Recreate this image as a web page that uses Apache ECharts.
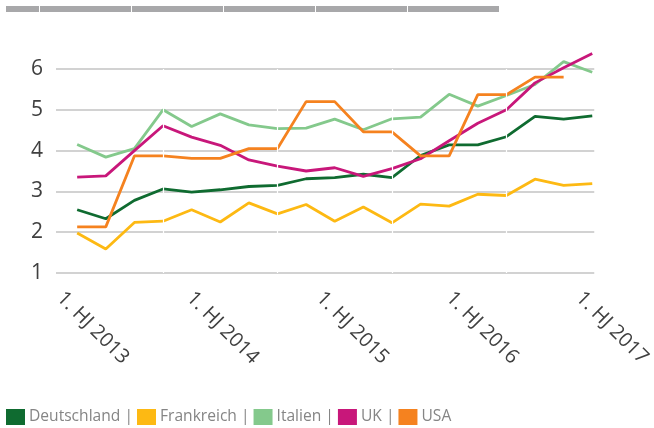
<!DOCTYPE html>
<html>
<head>
<meta charset="utf-8">
<script src="https://cdn.jsdelivr.net/npm/echarts@6/dist/echarts.min.js"></script>
<style>
  html, body { margin: 0; padding: 0; background: #fff; }
  #main { width: 654px; height: 428px; }
</style>
</head>
<body>
<div id="main"></div>
<script>
// Werte je Land (19 Zeitpunkte, USA einer weniger)
var deutschland = [2.55, 2.33, 2.78, 3.06, 2.98, 3.04, 3.12, 3.15, 3.31, 3.34, 3.42, 3.34, 3.88, 4.14, 4.14, 4.34, 4.84, 4.77, 4.85];
var frankreich  = [1.98, 1.59, 2.24, 2.27, 2.55, 2.25, 2.72, 2.45, 2.68, 2.27, 2.62, 2.23, 2.69, 2.64, 2.93, 2.90, 3.30, 3.15, 3.19];
var italien     = [4.15, 3.84, 4.05, 5.00, 4.59, 4.90, 4.63, 4.54, 4.55, 4.77, 4.51, 4.78, 4.82, 5.38, 5.09, 5.35, 5.62, 6.18, 5.92];
var uk          = [3.35, 3.38, 4.00, 4.61, 4.33, 4.13, 3.77, 3.62, 3.50, 3.58, 3.37, 3.56, 3.80, 4.24, 4.67, 5.00, 5.66, 6.03, 6.38];
var usa         = [2.13, 2.13, 3.87, 3.87, 3.81, 3.81, 4.05, 4.05, 5.20, 5.20, 4.46, 4.46, 3.87, 3.87, 5.37, 5.37, 5.80, 5.80];

var names  = ['Deutschland', 'Frankreich', 'Italien', 'UK', 'USA'];
var colors = ['#0f6b30', '#fdb913', '#84c98c', '#c8177a', '#f5821f'];
var xLabels = ['1. HJ 2013', '1. HJ 2014', '1. HJ 2015', '1. HJ 2016', '1. HJ 2017'];

// Beschriftungen gleichmäßig verteilt (in Indexeinheiten)
var labelStart = -0.6, labelStep = 4.535;
var labelPos = xLabels.map(function (l, i) { return +(labelStart + i * labelStep).toFixed(3); });

function pairs(arr) {
    return arr.map(function (v, i) { return [i, v]; });
}

var seriesData = [deutschland, frankreich, italien, uk, usa];

var series = seriesData.map(function (d, k) {
    return {
        name: names[k],
        type: 'line',
        data: pairs(d),
        showSymbol: false,
        symbol: 'none',
        clip: false,
        lineStyle: { width: 2.8, color: colors[k] },
        itemStyle: { color: colors[k] },
        z: 3
    };
});

// kleine Lücken in den Gitterlinien
series.push({
    type: 'line',
    data: [],
    z: 1,
    silent: true,
    markLine: {
        silent: true,
        symbol: 'none',
        label: { show: false },
        lineStyle: { color: '#ffffff', width: 1.2, type: 'solid' },
        data: [{ xAxis: 3 }, { xAxis: 7 }, { xAxis: 11 }, { xAxis: 15 }]
    }
});

// grauer Balken oben
var barGaps = [39, 131, 223, 315, 407];
var graphics = [{ type: 'rect', shape: { x: 6, y: 6, width: 493, height: 6 }, style: { fill: '#a8a8aa' } }];
barGaps.forEach(function (g) {
    graphics.push({ type: 'rect', shape: { x: g, y: 6, width: 1, height: 6 }, style: { fill: '#ffffff' } });
});

var myChart = echarts.init(document.getElementById('main'));
myChart.setOption({
    animation: false,
    graphic: graphics,
    grid: { left: 56, right: 55, top: 69, bottom: 155, containLabel: false },
    legend: {
        left: 6,
        top: 409,
        padding: 0,
        icon: 'rect',
        itemWidth: 19,
        itemHeight: 16,
        itemGap: 4,
        data: names,
        formatter: function (n) { return n === 'USA' ? n : n + ' |'; },
        textStyle: { fontFamily: 'Open Sans', fontSize: 15.6, color: '#858585', padding: [0, 0, 0, -1] }
    },
    xAxis: {
        type: 'value',
        min: -0.74,
        max: 18.07,
        axisLine: { show: false },
        axisTick: { show: false },
        splitLine: { show: false },
        axisLabel: {
            customValues: labelPos,
            rotate: -45,
            margin: 22,
            fontFamily: 'Open Sans',
            fontSize: 20,
            color: '#404040',
            formatter: function (v) {
                var i = labelPos.indexOf(+(+v).toFixed(3));
                return i >= 0 ? xLabels[i] : '';
            }
        }
    },
    yAxis: {
        type: 'value',
        min: 1,
        max: 6,
        interval: 1,
        axisLine: { show: false },
        axisTick: { show: false },
        axisLabel: { margin: 13, fontFamily: 'Open Sans', fontSize: 21, color: '#404040', padding: [4, 0, 0, 0] },
        splitLine: { lineStyle: { color: '#d2d2d2', width: 2 } }
    },
    series: series
});
</script>
</body>
</html>
